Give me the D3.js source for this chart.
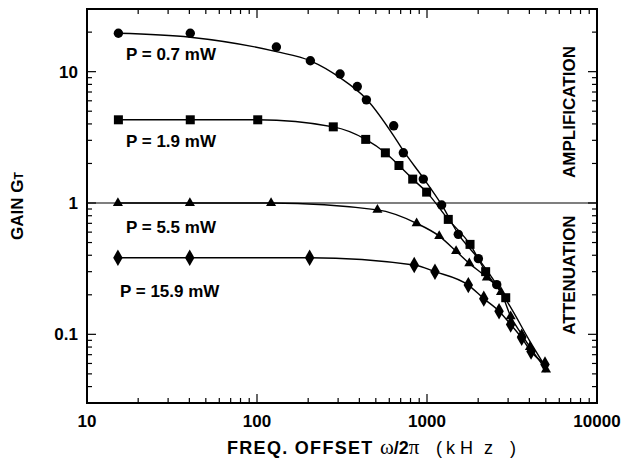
<!DOCTYPE html>
<html>
<head>
<meta charset="utf-8">
<script src="https://cdn.jsdelivr.net/npm/d3@7"></script>
<style>
  body { margin: 0; background: #fff; }
  svg text { font-family: "Liberation Sans", Arial, sans-serif; fill: #000; }
</style>
</head>
<body>
<div id="chart"></div>
<script>
// data: [freq offset (kHz), gain G_T]
const circleData = [[15.3, 19.6], [40.5, 19.6], [130, 15.4], [206, 12.1], [308, 9.6], [389, 7.7],
    [440, 6.1], [637, 3.87], [726, 2.41], [951, 1.52], [1219, 0.966], [1528, 0.577], [2005, 0.377], [2571, 0.239]];
const circleFit = [[15.3, 19.6], [40.5, 18.3], [130, 14.2], [206, 12.1], [308, 9.0], [440, 6.2], [637, 3.25],
    [726, 2.5], [951, 1.55], [1219, 0.97], [1528, 0.58], [2005, 0.377], [2571, 0.239], [3200, 0.15], [4000, 0.09], [5000, 0.056]];
const squareData = [[15.3, 4.3], [40.5, 4.3], [101, 4.3], [281, 3.8], [436, 3.05], [569, 2.41], [684, 1.93],
    [824, 1.52], [995, 1.21], [1334, 0.75], [1791, 0.484], [2213, 0.30], [2905, 0.19]];
const triangleData = [[15.2, 1.0], [40.3, 1.0], [121, 1.0], [511, 0.886], [869, 0.70], [1180, 0.56], [1483, 0.43],
    [1774, 0.347], [2250, 0.27], [2723, 0.21], [3105, 0.137], [3606, 0.1], [4030, 0.08], [5012, 0.054]];
const diamondData = [[15.2, 0.383], [40.2, 0.383], [204, 0.383], [841, 0.337], [1114, 0.30], [1750, 0.237],
    [2158, 0.187], [2654, 0.15], [3105, 0.119], [3606, 0.094], [4093, 0.074], [4944, 0.059]];

const seriesLabels = ['P = 0.7 mW', 'P = 1.9 mW', 'P = 5.5 mW', 'P = 15.9 mW'];
const xTickLabels = ['10', '100', '1000', '10000'];
const yTickLabels = ['0.1', '1', '10'];

const width = 621, height = 459;
const svg = d3.select('#chart').append('svg')
    .attr('width', width)
    .attr('height', height);

const x = d3.scaleLog().domain([10, 10000]).range([87, 597]);
const y = d3.scaleLog().domain([0.03, 30]).range([403, 9]);

// frame
svg.append('rect')
    .attr('x', x(10)).attr('y', y(30))
    .attr('width', x(10000) - x(10)).attr('height', y(0.03) - y(30))
    .attr('fill', 'none').attr('stroke', '#000').attr('stroke-width', 2);

// ticks (inward, all four sides)
const tickG = svg.append('g').attr('stroke', '#000').attr('stroke-width', 1.2);
const isDecade = v => Math.abs(Math.log10(v) - Math.round(Math.log10(v))) < 1e-9;
x.ticks().forEach(v => {
    const len = isDecade(v) ? 9 : 5;
    tickG.append('line').attr('x1', x(v)).attr('x2', x(v)).attr('y1', y(0.03)).attr('y2', y(0.03) - len);
    tickG.append('line').attr('x1', x(v)).attr('x2', x(v)).attr('y1', y(30)).attr('y2', y(30) + len);
});
y.ticks().forEach(v => {
    const len = isDecade(v) ? 9 : 5;
    tickG.append('line').attr('x1', x(10)).attr('x2', x(10) + len).attr('y1', y(v)).attr('y2', y(v));
    tickG.append('line').attr('x1', x(10000)).attr('x2', x(10000) - len).attr('y1', y(v)).attr('y2', y(v));
});

// G = 1 line
svg.append('line')
    .attr('x1', x(10)).attr('x2', x(10000))
    .attr('y1', y(1)).attr('y2', y(1))
    .attr('stroke', '#000').attr('stroke-width', 1.2);

// tick labels
svg.selectAll('.xlab').data(xTickLabels).enter().append('text')
    .attr('x', d => x(+d)).attr('y', 427)
    .attr('text-anchor', 'middle')
    .style('font-size', '17px').style('font-weight', 'bold')
    .text(d => d);
svg.selectAll('.ylab').data(yTickLabels).enter().append('text')
    .attr('x', 78).attr('y', d => y(+d) + 6)
    .attr('text-anchor', 'end')
    .style('font-size', '17px').style('font-weight', 'bold')
    .text(d => d);

// curves
const line = d3.line().x(d => x(d[0])).y(d => y(d[1])).curve(d3.curveMonotoneX);
[circleFit, squareData, triangleData, diamondData].forEach(s => {
    svg.append('path').attr('d', line(s))
        .attr('fill', 'none').attr('stroke', '#000').attr('stroke-width', 1.4);
});

// markers
svg.selectAll('.circ').data(circleData).enter().append('circle')
    .attr('cx', d => x(d[0])).attr('cy', d => y(d[1])).attr('r', 4.7).attr('fill', '#000');
svg.selectAll('.sq').data(squareData).enter().append('rect')
    .attr('x', d => x(d[0]) - 4.5).attr('y', d => y(d[1]) - 4.5)
    .attr('width', 9).attr('height', 9).attr('fill', '#000');
const tri = d3.symbol().type(d3.symbolTriangle).size(44);
svg.selectAll('.tri').data(triangleData).enter().append('path')
    .attr('d', tri)
    .attr('transform', d => `translate(${x(d[0])},${y(d[1])})`).attr('fill', '#000');
const dia = d3.symbol().type(d3.symbolDiamond).size(78);
svg.selectAll('.dia').data(diamondData).enter().append('path')
    .attr('d', dia)
    .attr('transform', d => `translate(${x(d[0])},${y(d[1])})`).attr('fill', '#000');

// series labels
const labelPos = [[126, 60], [126, 147], [126, 233], [120, 297]];
svg.selectAll('.slab').data(seriesLabels).enter().append('text')
    .attr('x', (d, i) => labelPos[i][0]).attr('y', (d, i) => labelPos[i][1])
    .style('font-size', '17px').style('font-weight', 'bold')
    .text(d => d);

// region labels
svg.append('text')
    .attr('transform', 'translate(575,112) rotate(-90)')
    .attr('text-anchor', 'middle')
    .style('font-size', '17px').style('font-weight', 'bold')
    .text('AMPLIFICATION');
svg.append('text')
    .attr('transform', 'translate(575,275) rotate(-90)')
    .attr('text-anchor', 'middle')
    .style('font-size', '17px').style('font-weight', 'bold')
    .text('ATTENUATION');

// axis titles
const xt = svg.append('text').attr('x', 227).attr('y', 454)
    .style('font-size', '18px');
xt.append('tspan').style('font-weight', 'bold').style('letter-spacing', '1.3px').text('FREQ. OFFSET ');
xt.append('tspan').style('font-family', '"Liberation Serif", serif').style('font-size', '21px').text('ω');
xt.append('tspan').style('font-weight', 'bold').text('/2');
xt.append('tspan').style('font-family', '"Liberation Serif", serif').style('font-size', '21px').text('π');
[['(', 436], ['k', 446], ['H', 460], ['z', 484], [')', 510]].forEach(([ch, px]) => {
    xt.append('tspan').attr('x', px).text(ch);
});

const yt = svg.append('text')
    .attr('transform', 'translate(23,206) rotate(-90)')
    .attr('text-anchor', 'middle')
    .style('font-size', '17px').style('font-weight', 'bold');
yt.append('tspan').text('GAIN  G');
yt.append('tspan').style('font-size', '12px').text('T');
</script>
</body>
</html>
